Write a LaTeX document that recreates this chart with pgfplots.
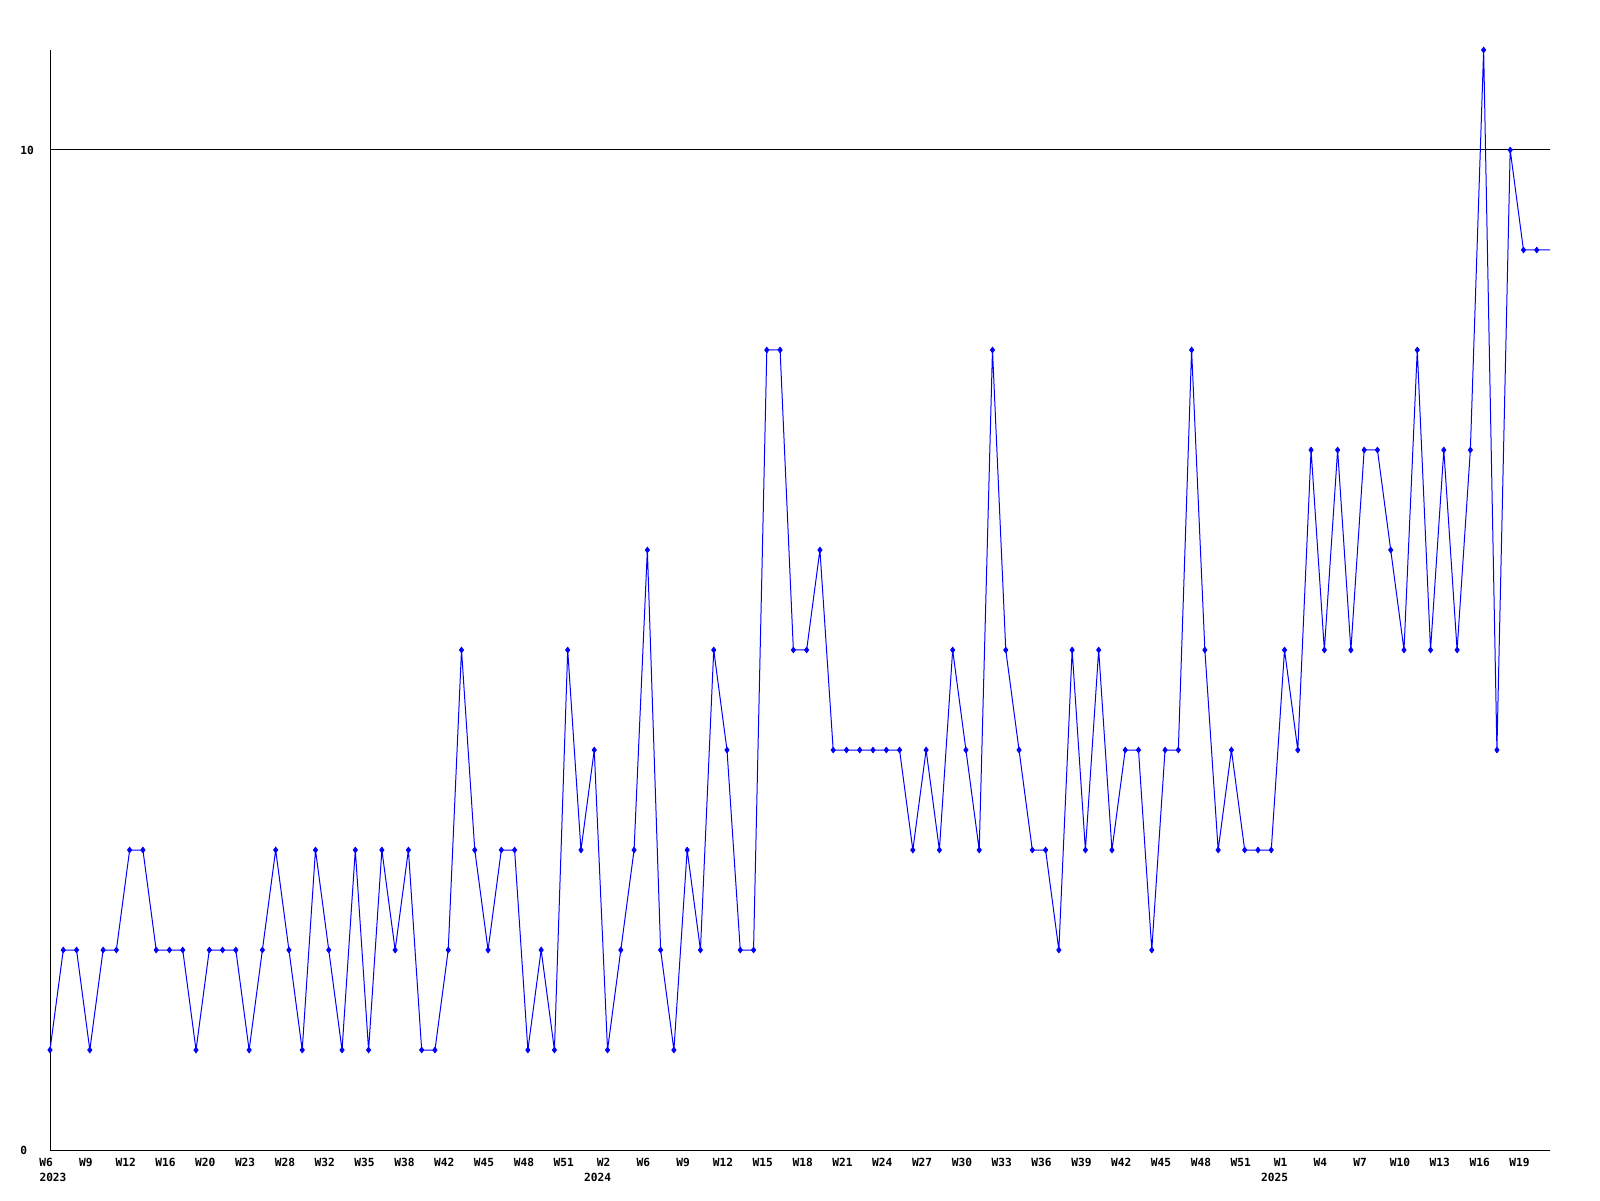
\documentclass[border=0pt]{standalone}
\usepackage{fontspec}
\setmonofont{DejaVu Sans Mono}
\usepackage{pgfplots}
\usepackage{pgfplotstable}
\pgfplotsset{compat=1.18}
\pgfplotstableread{
idx val
0 1
1 2
2 2
3 1
4 2
5 2
6 3
7 3
8 2
9 2
10 2
11 1
12 2
13 2
14 2
15 1
16 2
17 3
18 2
19 1
20 3
21 2
22 1
23 3
24 1
25 3
26 2
27 3
28 1
29 1
30 2
31 5
32 3
33 2
34 3
35 3
36 1
37 2
38 1
39 5
40 3
41 4
42 1
43 2
44 3
45 6
46 2
47 1
48 3
49 2
50 5
51 4
52 2
53 2
54 8
55 8
56 5
57 5
58 6
59 4
60 4
61 4
62 4
63 4
64 4
65 3
66 4
67 3
68 5
69 4
70 3
71 8
72 5
73 4
74 3
75 3
76 2
77 5
78 3
79 5
80 3
81 4
82 4
83 2
84 4
85 4
86 8
87 5
88 3
89 4
90 3
91 3
92 3
93 5
94 4
95 7
96 5
97 7
98 5
99 7
100 7
101 6
102 5
103 8
104 5
105 7
106 5
107 7
108 11
109 4
110 10
111 9
112 9
113 9
}\datatable
\begin{document}
\begin{tikzpicture}
\useasboundingbox (-25pt,-25pt) rectangle (775pt,575pt);
\begin{axis}[
  at={(0,0)}, anchor=south west,
  scale only axis, width=750pt, height=550pt,
  xmin=0, xmax=113, ymin=0, ymax=11,
  axis x line*=bottom, axis y line*=left,
  axis line style={-, black, line width=0.5pt},
  xtick={0,3,...,111},
  xticklabels={W6,W9,W12,W16,W20,W23,W28,W32,W35,W38,W42,W45,W48,W51,W2,W6,W9,W12,W15,W18,W21,W24,W27,W30,W33,W36,W39,W42,W45,W48,W51,W1,W4,W7,W10,W13,W16,W19},
  ytick={0,10}, yticklabels={0,10},
  major tick length=0pt,
  ymajorgrids, grid style={black, line width=0.5pt},
  xmajorgrids=false,
  tick label style={font=\ttfamily\bfseries\fontsize{5.6}{6}\selectfont},
  /pgf/number format/assume math mode=true,
  xticklabel style={anchor=north, xshift=-2pt, yshift=-0.6pt},
  yticklabel style={anchor=west, xshift=-18.4pt},
  extra x ticks={0,42,93},
  extra x tick labels={\hspace*{7pt}2023,2024\hspace*{6pt},2025\hspace*{6pt}},
  extra x tick style={grid=none, xticklabel style={yshift=-7.4pt}},
  clip=false,
]
\addplot[color={rgb,255:red,0;green,0;blue,255}, line width=0.5pt, no marks] table[x=idx, y=val] {\datatable};
\addplot[color={rgb,255:red,0;green,0;blue,255}, only marks, mark=diamond*, mark size=1.4pt, skip coords between index={113}{114}] table[x=idx, y=val] {\datatable};
\end{axis}
\end{tikzpicture}
\end{document}
